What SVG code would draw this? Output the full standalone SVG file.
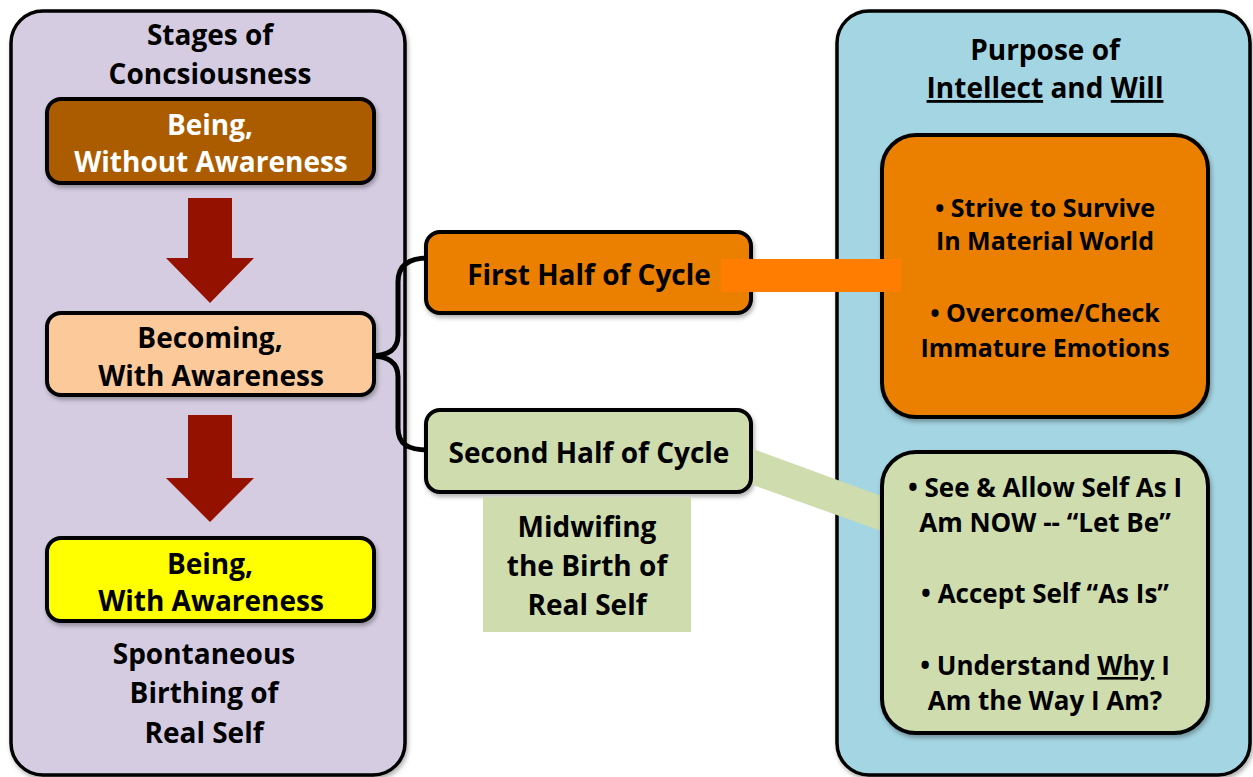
<svg xmlns="http://www.w3.org/2000/svg" width="1253" height="777" viewBox="0 0 1253 777">
<defs>
<filter id="sh" x="-10%" y="-10%" width="120%" height="130%">
<feDropShadow dx="1.5" dy="3" stdDeviation="2" flood-color="#000" flood-opacity="0.3"/>
</filter>
<style>
.t{font-family:"Open Sans","Liberation Sans",sans-serif;font-weight:700;font-size:28px;text-anchor:middle;fill:#000}
.s26{font-size:26px}
.s25{font-size:25px}
.w{fill:#fff}
.box{stroke:#000;stroke-width:4}
.panel{stroke:#000;stroke-width:3.5}
.u{text-decoration:underline}
</style>
</defs>
<rect width="1253" height="777" fill="#fff"/>

<g id="left-panel">
<rect class="panel" x="11" y="11" width="394" height="764" rx="32" fill="#d5cce1" filter="url(#sh)"/>
<text class="t" x="210" y="45">Stages of</text>
<text class="t" x="210" y="84">Concsiousness</text>
</g>

<g id="arrows">
<polygon points="188,198 232,198 232,258 254,258 210,303 166,258 188,258" fill="#941100"/>
<polygon points="188,415 232,415 232,478 254,478 210,522 166,478 188,478" fill="#941100"/>
</g>

<g id="brace">
<path d="M370,356 C388,356 398,350 398,335 L398,282 C398,266 408,258 428,258" fill="none" stroke="#000" stroke-width="5"/>
<path d="M370,356 C388,356 398,362 398,377 L398,428 C398,444 408,450 428,450" fill="none" stroke="#000" stroke-width="5"/>
</g>

<g id="being-without">
<rect class="box" x="47" y="99" width="327" height="84" rx="14" fill="#ab5c00" filter="url(#sh)"/>
<text class="t w" x="210" y="135">Being,</text>
<text class="t w" x="211" y="172">Without Awareness</text>
</g>

<g id="becoming">
<rect class="box" x="47" y="313" width="327" height="82" rx="14" fill="#fbc99a" filter="url(#sh)"/>
<text class="t" x="210" y="348">Becoming,</text>
<text class="t" x="211" y="386">With Awareness</text>
</g>

<g id="being-with">
<rect class="box" x="47" y="538" width="327" height="83" rx="14" fill="#ffff00" filter="url(#sh)"/>
<text class="t" x="210" y="574">Being,</text>
<text class="t" x="211" y="611">With Awareness</text>
</g>

<g id="spontaneous">
<text class="t" x="204" y="664">Spontaneous</text>
<text class="t" x="204" y="703">Birthing of</text>
<text class="t" x="204" y="743">Real Self</text>
</g>

<g id="first-half">
<rect class="box" x="426" y="232" width="325" height="81" rx="14" fill="#eb7f04" filter="url(#sh)"/>
<text class="t" x="589" y="285">First Half of Cycle</text>
</g>

<g id="second-half">
<rect class="box" x="426" y="410" width="325" height="82" rx="14" fill="#cedcae" filter="url(#sh)"/>
<text class="t" x="589" y="463">Second Half of Cycle</text>
</g>

<g id="midwifing">
<rect x="483" y="497" width="208" height="135" fill="#cedcae"/>
<text class="t" x="587" y="537">Midwifing</text>
<text class="t" x="587" y="576">the Birth of</text>
<text class="t" x="587" y="615">Real Self</text>
</g>

<g id="right-panel">
<rect class="panel" x="837" y="11" width="413" height="764" rx="32" fill="#a4d5e2" filter="url(#sh)"/>
<text class="t" x="1045" y="60">Purpose of</text>
<text class="t" x="1045" y="98"><tspan class="u">Intellect</tspan> and <tspan class="u">Will</tspan></text>
</g>

<g id="connector-green">
<polygon points="753,449 884,497 884,532 753,485" fill="#cedcae"/>
</g>

<g id="intellect-box">
<rect class="box" x="882" y="135" width="326" height="282" rx="34" fill="#eb7f04" filter="url(#sh)"/>
<text class="t s25" x="1045" y="217">• Strive to Survive</text>
<text class="t s25" x="1045" y="250">In Material World</text>
<text class="t s25" x="1045" y="322">• Overcome/Check</text>
<text class="t s25" x="1045" y="357">Immature Emotions</text>
</g>

<g id="will-box">
<rect class="box" x="882" y="452" width="326" height="281" rx="34" fill="#cedcae" filter="url(#sh)"/>
<text class="t s26" x="1045" y="497">• See &amp; Allow Self As I</text>
<text class="t s26" x="1045" y="532">Am NOW -- “Let Be”</text>
<text class="t s26" x="1045" y="603">• Accept Self “As Is”</text>
<text class="t s26" x="1045" y="675">• Understand <tspan class="u">Why</tspan> I</text>
<text class="t s26" x="1045" y="710">Am the Way I Am?</text>
</g>

<g id="connector-orange">
<rect x="721" y="259" width="180" height="33" fill="#ff7d00"/>
</g>
</svg>
